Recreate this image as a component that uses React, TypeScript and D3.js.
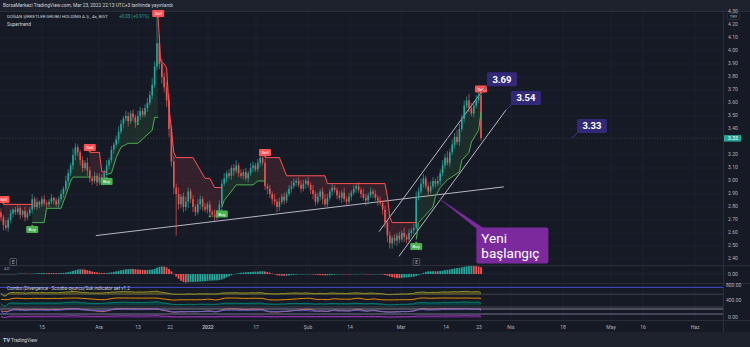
import React from "react";
import * as d3 from "d3";

// ---------- DATA ----------
const firstOpen = 2.76;
const closes = [
  2.72, 2.66, 2.64, 2.70, 2.75, 2.78, 2.76, 2.79, 2.74, 2.77, 2.72, 2.75, 2.78,
  2.86,
  2.80, 2.84, 2.82, 2.86, 2.83, 2.82, 2.84, 2.87, 2.85, 2.82, 2.86, 2.90,
  2.94, 3.00, 3.06, 3.12, 3.20, 3.26,
  3.22, 3.16, 3.10, 3.14, 3.08, 3.02,
  3.00, 3.04, 2.99, 3.03, 3.01, 3.06,
  3.12,
  3.16, 3.24, 3.28, 3.32, 3.38, 3.44,
  3.48, 3.50, 3.46, 3.52, 3.49, 3.45, 3.50, 3.54, 3.51, 3.56,
  3.60, 3.66, 3.74, 3.88,
  4.06,
  3.90, 3.80, 3.72, 3.62, 3.40, 3.15, 2.95, 2.90,
  2.82, 2.88, 2.80, 2.84, 2.92, 2.86, 2.80, 2.76, 2.82, 2.86, 2.80, 2.78, 2.82, 2.76, 2.74, 2.72, 2.76, 2.82,
  2.98,
  3.02, 3.06, 3.04, 3.10, 3.08, 3.12, 3.06, 3.04, 3.07, 3.02, 3.06, 3.10, 3.12, 3.09, 3.14, 3.18, 3.14,
  2.96,
  2.94, 2.90, 2.86, 2.84, 2.80, 2.84, 2.88, 2.85, 2.90, 2.94,
  2.96, 2.99, 3.00, 2.97, 2.94, 2.98, 3.00, 2.97, 2.93, 2.90, 2.84, 2.88, 2.92, 2.86, 2.82, 2.87, 2.92, 2.95, 2.93,
  2.89, 2.87, 2.91, 2.86, 2.84, 2.88, 2.91, 2.94, 2.96, 2.93, 2.90, 2.87, 2.85, 2.89, 2.92, 2.90, 2.87, 2.85, 2.83,
  2.78, 2.68, 2.58, 2.52, 2.56,
  2.54, 2.58, 2.55, 2.60, 2.57, 2.55, 2.60, 2.62, 2.64,
  2.88,
  2.92, 2.98, 3.02, 2.96, 2.92, 2.96, 3.00, 2.98,
  3.00, 3.06, 3.12, 3.18, 3.14, 3.22, 3.28, 3.34, 3.30, 3.40, 3.48, 3.58, 3.62, 3.56, 3.52, 3.58, 3.62, 3.66,
  3.33,
];
// wick lengths above / below the body, in kuruş (0.01 TRY)
const upWickCents = [
  3, 2, 4, 2, 3, 1, 2, 3, 2, 1, 3, 2, 2, 4, 2, 3, 1, 2, 3, 2,
  2, 3, 1, 2, 2, 3, 2, 4, 3, 2, 5, 3, 2, 2, 3, 2, 4, 3, 2, 3,
  2, 3, 2, 3, 4, 2, 3, 2, 3, 4, 3, 2, 4, 3, 2, 3, 2, 4, 3, 2,
  3, 4, 3, 5, 4, 20, 6, 4, 3, 4, 5, 3, 4, 3, 5, 2, 3, 4, 3, 2,
  3, 2, 4, 3, 2, 3, 2, 3, 2, 4, 2, 3, 3, 4, 2, 3, 2, 3, 4, 2,
  3, 2, 3, 2, 4, 3, 2, 3, 4, 2, 3, 2, 3, 2, 4, 2, 3, 2, 3, 2,
  3, 4, 3, 2, 3, 4, 3, 2, 3, 2, 4, 2, 3, 2, 3, 4, 3, 2, 3, 2,
  2, 3, 2, 4, 2, 3, 2, 3, 2, 3, 2, 4, 3, 2, 3, 2, 3, 2, 3, 2,
  3, 2, 3, 2, 3, 2, 3, 2, 4, 2, 3, 2, 3, 4, 3, 4, 3, 2, 3, 4,
  3, 2, 4, 3, 4, 3, 5, 3, 4, 3, 5, 4, 3, 4, 3, 5, 4, 3, 4, 4,
  3,
];
const downWickCents = [
  3, 4, 2, 3, 2, 3, 2, 2, 3, 2, 3, 2, 2, 3, 2, 2, 3, 2, 2, 3,
  2, 2, 3, 2, 3, 2, 3, 2, 3, 2, 3, 4, 3, 4, 3, 2, 4, 3, 3, 2,
  3, 2, 3, 2, 2, 3, 2, 3, 2, 3, 2, 3, 2, 4, 2, 3, 4, 2, 3, 2,
  2, 3, 2, 3, 2, 3, 4, 5, 4, 5, 6, 4, 5, 32, 4, 3, 4, 3, 5, 3,
  4, 3, 2, 4, 3, 2, 3, 4, 2, 3, 2, 2, 3, 2, 3, 2, 3, 4, 2, 3,
  2, 3, 2, 3, 2, 3, 2, 2, 3, 2, 3, 4, 3, 4, 3, 4, 3, 2, 3, 2,
  2, 3, 2, 3, 2, 3, 2, 4, 2, 3, 4, 3, 2, 3, 4, 2, 3, 2, 3, 2,
  3, 2, 4, 2, 3, 2, 3, 2, 3, 2, 3, 2, 4, 3, 2, 3, 2, 4, 2, 4,
  4, 5, 4, 4, 3, 4, 3, 2, 4, 3, 2, 3, 3, 2, 3, 2, 3, 2, 3, 2,
  2, 3, 2, 3, 2, 3, 2, 3, 2, 3, 2, 3, 2, 3, 2, 3, 2, 3, 2, 2,
  2,
];

// Supertrend line, read as vertices [bar, price] per trend segment
const stSegA: [number, number][] = [[1, 2.82], [13, 2.82]];
const stSegB: [number, number][] = [[13, 2.68], [18, 2.68], [19, 2.79], [25, 2.79], [27, 2.89], [29, 3.0], [30, 3.03], [37, 3.03]];
const stSegC: [number, number][] = [[37, 3.22], [41, 3.22], [42, 3.07], [44, 3.07]];
const stSegD: [number, number][] = [[44, 3.05], [46, 3.06], [48, 3.18], [50, 3.26], [53, 3.29], [57, 3.29], [60, 3.34], [63, 3.39], [64, 3.49], [65.5, 3.49]];
const stSegE: [number, number][] = [[65.5, 4.25], [66.5, 3.92], [68, 3.9], [69, 3.87], [70, 3.57], [72, 3.22], [73, 3.18], [80, 3.18], [85, 3.02], [87, 3.02], [89, 2.95], [92, 2.95]];
const stSegF: [number, number][] = [[92, 2.8], [93, 2.85], [98, 2.97], [105, 2.97], [107, 3.0], [110, 3.0]];
const stSegG: [number, number][] = [[110, 3.18], [116, 3.18], [119, 3.04], [135, 3.04], [136, 2.98], [160, 2.98], [161, 2.88], [162, 2.72], [163, 2.68], [173, 2.68]];
const stSegH: [number, number][] = [[173, 2.55], [174, 2.68], [176, 2.72], [180, 2.8], [181, 2.88], [183, 2.95], [186, 3.01], [191, 3.07], [192, 3.16], [195, 3.22], [196, 3.3], [199, 3.39], [200, 3.53]];
const stSegI: [number, number][] = [[200, 3.67]];
const stSegments = [stSegA, stSegB, stSegC, stSegD, stSegE, stSegF, stSegG, stSegH, stSegI];
const stDirections = ["down", "up", "down", "up", "down", "up", "down", "up", "down"];

const priceTicks = [4.3, 4.2, 4.1, 4.0, 3.9, 3.8, 3.7, 3.6, 3.5, 3.4, 3.2, 3.1, 3.0, 2.9, 2.8, 2.7, 2.6, 2.5, 2.4];
const dateTickBars = [17.1, 40.8, 57.1, 70.4, 86.25, 106.25, 127.9, 145.4, 166.7, 185.4, 199.2, 212.5, 234.2, 254.2, 267.5, 289.2];
const dateTickLabels = ["15", "Ara", "13", "22", "2022", "17", "Şub", "14", "Mar", "14", "23", "Nis", "18", "May", "16", "Haz"];

const lastPrice = 3.33;
const earningsBars = [5, 173];
const dotBars = [57, 87, 184];
const dotPrices = [3.44, 2.73, 3.08];

// drawn trend lines: [bar1, price1, bar2, price2]
const trendLines = [
  [39.5, 2.58, 209.5, 2.955],
  [157.5, 2.61, 200.4, 3.69],
  [165.8, 2.42, 210.4, 3.546],
];
const noteBars = [200.4, 210.4, 237.9];
const notePrices = [3.69, 3.546, 3.33];
const noteTexts = ["3.69", "3.54", "3.33"];

const calloutBar = 181.4;
const calloutPrice = 2.88;
const calloutLines = ["Yeni", "başlangıç"];

// ---------- HELPERS ----------
function smaAt(arr: number[], i: number, n: number) {
  const s = Math.max(0, i - n + 1);
  let t = 0;
  for (let k = s; k <= i; k++) t += arr[k];
  return t / (i - s + 1);
}
function rsiSeries(vals: number[], n: number) {
  let ag = 0, al = 0;
  const out: number[] = [];
  vals.forEach((v, i) => {
    if (i === 0) { out.push(50); return; }
    const ch = v - vals[i - 1];
    const k = Math.min(i, n);
    ag = (ag * (k - 1) + Math.max(ch, 0)) / k;
    al = (al * (k - 1) + Math.max(-ch, 0)) / k;
    out.push(al === 0 ? 100 : 100 - 100 / (1 + ag / al));
  });
  return out;
}

export default function App() {
  const bars = closes.map((c, i) => {
    const o = i === 0 ? firstOpen : closes[i - 1];
    const h = Math.max(o, c) + upWickCents[i] / 100;
    const l = Math.min(o, c) - downWickCents[i] / 100;
    return { i, o, h, l, c };
  });

  const x = d3.scaleLinear().domain([0, 200]).range([1, 481]);
  const y = d3.scaleLinear().domain([2.4, 4.2]).range([259, 25]);

  // AO histogram
  const hl2 = bars.map((b) => (b.h + b.l) / 2);
  const ao = hl2.map((_, i) => smaAt(hl2, i, 5) - smaAt(hl2, i, 34));
  const aoMax = d3.max(ao, (v) => Math.abs(v)) || 1;
  const yA = d3.scaleLinear().domain([-aoMax, aoMax]).range([282.5, 265.5]);

  // Oscillators
  const rsi = rsiSeries(closes, 14);
  const kRaw = bars.map((b, i) => {
    const s = Math.max(0, i - 13);
    const win = bars.slice(s, i + 1);
    const hh = d3.max(win, (d) => d.h)!;
    const ll = d3.min(win, (d) => d.l)!;
    return hh === ll ? 50 : ((b.c - ll) / (hh - ll)) * 100;
  });
  const stoch = kRaw.map((_, i) => smaAt(kRaw, i, 3));
  const yO = d3.scaleLinear().domain([0, 800]).range([318, 284]);

  const oscLine = (vals: number[]) =>
    d3.line<number>().x((_, i) => x(i)).y((v) => yO(v)).curve(d3.curveLinear)(vals) || "";
  const oscArea = (vals: number[], base: number) =>
    d3.area<number>().x((_, i) => x(i)).y0(yO(base)).y1((v) => yO(v))(vals) || "";

  const olive = rsi.map((r) => 585 + (r - 50) * 1.3);
  const orange = stoch.map((s) => 447 + (s - 50) * 0.55);
  const teal = rsi.map((r) => 341 + (r - 50) * 1.2);
  const salmon = stoch.map((s) => 178 + (s - 50) * 0.9);
  const blueW = rsi.map((r) => 172 + (r - 50) * 1.4);
  const purple = rsi.map((r) => 38 + (r - 50) * 0.5);

  const stLine = d3.line<[number, number]>().x((d) => x(d[0])).y((d) => y(d[1]));

  const stFill = (seg: [number, number][]) => {
    const a = Math.ceil(seg[0][0]);
    const b = Math.floor(seg[seg.length - 1][0]);
    if (b <= a) return "";
    const pts: [number, number][] = seg.map((p) => [x(p[0]), y(p[1])]);
    for (let i = b; i >= a; i--) pts.push([x(i), y((bars[i].o + bars[i].c) / 2)]);
    return "M" + pts.map((p) => p.join(",")).join("L") + "Z";
  };

  const green = "#4caf50";
  const red = "#ff5252";
  const up = "#26a69a";
  const dn = "#ef5350";
  const bg = "#161a25";
  const gridC = "#1e2230";
  const axisText = "#b2b5be";
  const noteFill = "#33297a";

  const cx = x(calloutBar);
  const cy = y(calloutPrice);
  const boxL = cx + 40, boxT = cy + 31, boxW = 72, boxH = 36;

  return (
    <div style={{ position: "fixed", left: 0, top: 0 }}>
      <svg width={750} height={347} style={{ display: "block", fontFamily: "Roboto, 'Liberation Sans', sans-serif" }}>
        <rect x={0} y={0} width={750} height={347} fill={bg} />
        {/* header */}
        <rect x={0} y={0} width={750} height={11} fill="#1e222d" />
        <line x1={0} x2={750} y1={11.5} y2={11.5} stroke="#2a2e39" />
        <text x={3} y={7.3} fontSize={5} fill="#d1d4dc" textLength={170} lengthAdjust="spacingAndGlyphs">
          BorsaMerkezi TradingView.com, Mar 23, 2022 22:13 UTC+3 tarihinde yayınlandı
        </text>

        {/* grid */}
        {dateTickBars.map((b, k) => (
          <line key={"vg" + k} x1={x(b)} x2={x(b)} y1={12} y2={320} stroke={gridC} strokeWidth={0.8} />
        ))}
        {priceTicks.filter((p) => p <= 4.2).map((p, k) => (
          <line key={"hg" + k} x1={0} x2={723} y1={y(p)} y2={y(p)} stroke={gridC} strokeWidth={0.8} />
        ))}

        {/* pane separators */}
        <line x1={0} x2={750} y1={265.5} y2={265.5} stroke="#2a2e39" />
        <line x1={0} x2={750} y1={283.5} y2={283.5} stroke="#2a2e39" />
        <line x1={0} x2={750} y1={320.5} y2={320.5} stroke="#2a2e39" />
        <line x1={723.5} x2={723.5} y1={12} y2={332} stroke="#2a2e39" />
        <rect x={0} y={332} width={750} height={15} fill="#1e222d" />

        {/* supertrend fills */}
        {stSegments.map((seg, k) => (
          <path key={"sf" + k} d={stFill(seg)} fill={stDirections[k] === "up" ? "rgba(76,175,80,0.13)" : "rgba(255,82,82,0.13)"} />
        ))}

        {/* trend lines */}
        {trendLines.map((t, k) => (
          <line key={"tl" + k} x1={x(t[0])} y1={y(t[1])} x2={x(t[2])} y2={y(t[3])} stroke="#c8cad2" strokeWidth={0.9} />
        ))}

        {/* last price line */}
        <line x1={0} x2={723} y1={y(lastPrice)} y2={y(lastPrice)} stroke="#3a3f4b" strokeWidth={0.8} strokeDasharray="1.5,1.5" />

        {/* candles */}
        {bars.map((b) => {
          const col = b.c >= b.o ? up : dn;
          const top = y(Math.max(b.o, b.c));
          const bot = y(Math.min(b.o, b.c));
          return (
            <g key={"c" + b.i}>
              <line x1={x(b.i)} x2={x(b.i)} y1={y(b.h)} y2={y(b.l)} stroke={col} strokeWidth={0.7} />
              <rect x={x(b.i) - 0.8} width={1.6} y={top} height={Math.max(0.7, bot - top)} fill={col} />
            </g>
          );
        })}

        {/* supertrend lines */}
        {stSegments.map((seg, k) =>
          seg.length > 1 ? (
            <path key={"sl" + k} d={stLine(seg) || ""} fill="none" stroke={stDirections[k] === "up" ? green : red} strokeWidth={1} />
          ) : null
        )}

        {/* small dots */}
        {dotBars.map((b, k) => (
          <path key={"dt" + k} d={`M${x(b)},${y(dotPrices[k]) - 1.5}L${x(b) + 1.4},${y(dotPrices[k]) + 1}L${x(b) - 1.4},${y(dotPrices[k]) + 1}Z`} fill={green} />
        ))}

        {/* buy / sell labels */}
        {stSegments.map((seg, k) => {
          const [b, p] = seg[0];
          const lx = x(b);
          const ly = y(p);
          const isUp = stDirections[k] === "up";
          const col = isUp ? green : red;
          const cyL = isUp ? ly + 7 : ly - 5;
          return (
            <g key={"lb" + k}>
              {isUp ? (
                <path d={`M${lx},${cyL - 5}L${lx + 1.5},${cyL - 3.4}L${lx - 1.5},${cyL - 3.4}Z`} fill={col} />
              ) : (
                <path d={`M${lx},${cyL + 5}L${lx + 1.5},${cyL + 3.4}L${lx - 1.5},${cyL + 3.4}Z`} fill={col} />
              )}
              <rect x={lx - 6} y={cyL - 3.5} width={12} height={7} rx={1} fill={col} />
              <text x={lx} y={cyL + 1.6} fontSize={4.4} fill="#fff" textAnchor="middle">
                {isUp ? "Buy" : "Sell"}
              </text>
            </g>
          );
        })}

        {/* earnings markers */}
        {earningsBars.map((b, k) => (
          <g key={"e" + k}>
            <rect x={x(b) - 3} y={258.5} width={6.5} height={7} rx={1} fill={bg} stroke="#787b86" strokeWidth={0.6} />
            <text x={x(b) + 0.25} y={263.8} fontSize={4.5} fill="#b2b5be" textAnchor="middle">E</text>
          </g>
        ))}

        {/* price notes */}
        {noteBars.map((b, k) => {
          const ax = x(b), ay = y(notePrices[k]);
          const l = ax + 5, btm = ay - 5;
          return (
            <g key={"n" + k}>
              <line x1={ax} y1={ay} x2={l + 1} y2={btm - 1} stroke="#3d358a" strokeWidth={1} />
              <rect x={l} y={btm - 14} width={30} height={14} rx={1.5} fill={noteFill} />
              <text x={l + 15} y={btm - 3.8} fontSize={9.5} fontWeight="bold" fill="#fff" textAnchor="middle">
                {noteTexts[k]}
              </text>
            </g>
          );
        })}

        {/* callout */}
        <path d={`M${cx},${cy}L${boxL + 7},${boxT + 0.5}L${boxL},${boxT + 1}Z`} fill="#7b2a9e" />
        <rect x={boxL} y={boxT} width={boxW} height={boxH} rx={2} fill="#7b2a9e" />
        <text x={boxL + 5} y={boxT + 15} fontSize={13.5} fill="#fff">{calloutLines[0]}</text>
        <text x={boxL + 5} y={boxT + 30} fontSize={13.5} fill="#fff">{calloutLines[1]}</text>

        {/* legend */}
        <text x={7} y={18.2} fontSize={4.3} fill="#d1d4dc" textLength={101} lengthAdjust="spacingAndGlyphs">
          DOĞAN ŞİRKETLER GRUBU HOLDİNG A.Ş., 4s, BIST
        </text>
        <text x={119} y={18.2} fontSize={4.6} fill={up} textLength={30} lengthAdjust="spacingAndGlyphs">
          +0.03 (+0.91%)
        </text>
        <text x={7} y={25.5} fontSize={5} fill="#d1d4dc" textLength={24} lengthAdjust="spacingAndGlyphs">Supertrend</text>

        {/* AO histogram */}
        <line x1={0} x2={723} y1={yA(0)} y2={yA(0)} stroke="#2a2e39" strokeWidth={0.6} />
        {ao.map((v, i) => {
          const col = i > 0 && v >= ao[i - 1] ? up : dn;
          const y0 = yA(0), y1 = yA(v);
          return <rect key={"ao" + i} x={x(i) - 0.9} width={1.8} y={Math.min(y0, y1)} height={Math.max(0.4, Math.abs(y1 - y0))} fill={col} />;
        })}
        <text x={4} y={270} fontSize={4.2} fill="#9598a1">AO</text>
        <text x={728} y={274.5} fontSize={5} fill={axisText} dominantBaseline="middle">0.00</text>

        {/* oscillator pane */}
        <line x1={0} x2={723} y1={yO(720)} y2={yO(720)} stroke="#4b4fe0" strokeWidth={0.9} />
        <line x1={0} x2={723} y1={yO(560)} y2={yO(560)} stroke="#5d6070" strokeWidth={0.6} />
        <line x1={0} x2={723} y1={yO(259)} y2={yO(259)} stroke="#5d6070" strokeWidth={0.6} />
        <line x1={0} x2={723} y1={yO(212)} y2={yO(212)} stroke="#c9c9d6" strokeWidth={0.6} />
        <line x1={0} x2={723} y1={yO(94)} y2={yO(94)} stroke="#b7a9d6" strokeWidth={0.6} />
        <path d={oscArea(olive, 545)} fill="rgba(130,119,23,0.45)" />
        <path d={oscLine(olive)} fill="none" stroke="#9e9d24" strokeWidth={0.9} />
        <path d={oscLine(orange)} fill="none" stroke="#ff9800" strokeWidth={0.9} />
        <path d={oscArea(teal, 300)} fill="rgba(0,105,92,0.45)" />
        <path d={oscLine(teal)} fill="none" stroke="#00897b" strokeWidth={0.9} />
        <path d={oscLine(salmon)} fill="none" stroke="#e57373" strokeWidth={0.9} />
        <path d={oscLine(blueW)} fill="none" stroke="#5c6bf0" strokeWidth={0.8} />
        <path d={oscArea(purple, 0)} fill="rgba(123,31,162,0.35)" />
        <path d={oscLine(purple)} fill="none" stroke="#b03cc8" strokeWidth={0.9} />
        <text x={7} y={289.5} fontSize={4.5} fill="#d1d4dc" textLength={123} lengthAdjust="spacingAndGlyphs">
          Combo (Divergence - Scoobs-oyuncu/Suk indicator set v1.2
        </text>
        <text x={726} y={285.5} fontSize={5} fill={axisText} dominantBaseline="middle">800.00</text>
        <text x={726} y={301} fontSize={5} fill={axisText} dominantBaseline="middle">400.00</text>
        <text x={728} y={318} fontSize={5} fill={axisText} dominantBaseline="middle">0.00</text>

        {/* price axis */}
        {priceTicks.map((p, k) => (
          <text key={"pt" + k} x={728} y={y(p)} fontSize={5} fill={axisText} dominantBaseline="middle">
            {p.toFixed(2)}
          </text>
        ))}
        <rect x={727} y={13.5} width={13} height={6} rx={1} fill={bg} stroke="#434651" strokeWidth={0.5} />
        <text x={733.5} y={18} fontSize={4.2} fill={axisText} textAnchor="middle">TRY</text>
        <rect x={724} y={y(lastPrice) - 3} width={17} height={6.5} fill={up} />
        <text x={728} y={y(lastPrice) + 0.3} fontSize={5} fill="#fff" dominantBaseline="middle">{lastPrice.toFixed(2)}</text>

        {/* time axis */}
        {dateTickBars.map((b, k) => (
          <text key={"dl" + k} x={x(b)} y={328.5} fontSize={5} fill={axisText} textAnchor="middle" fontWeight={dateTickLabels[k] === "2022" ? "bold" : "normal"}>
            {dateTickLabels[k]}
          </text>
        ))}

        {/* logo */}
        <text x={3} y={341.5} fontSize={5.5} fontWeight="bold" fill="#d1d4dc">TV</text>
        <text x={11} y={341.5} fontSize={4.8} fill="#d1d4dc">TradingView</text>
      </svg>
    </div>
  );
}
